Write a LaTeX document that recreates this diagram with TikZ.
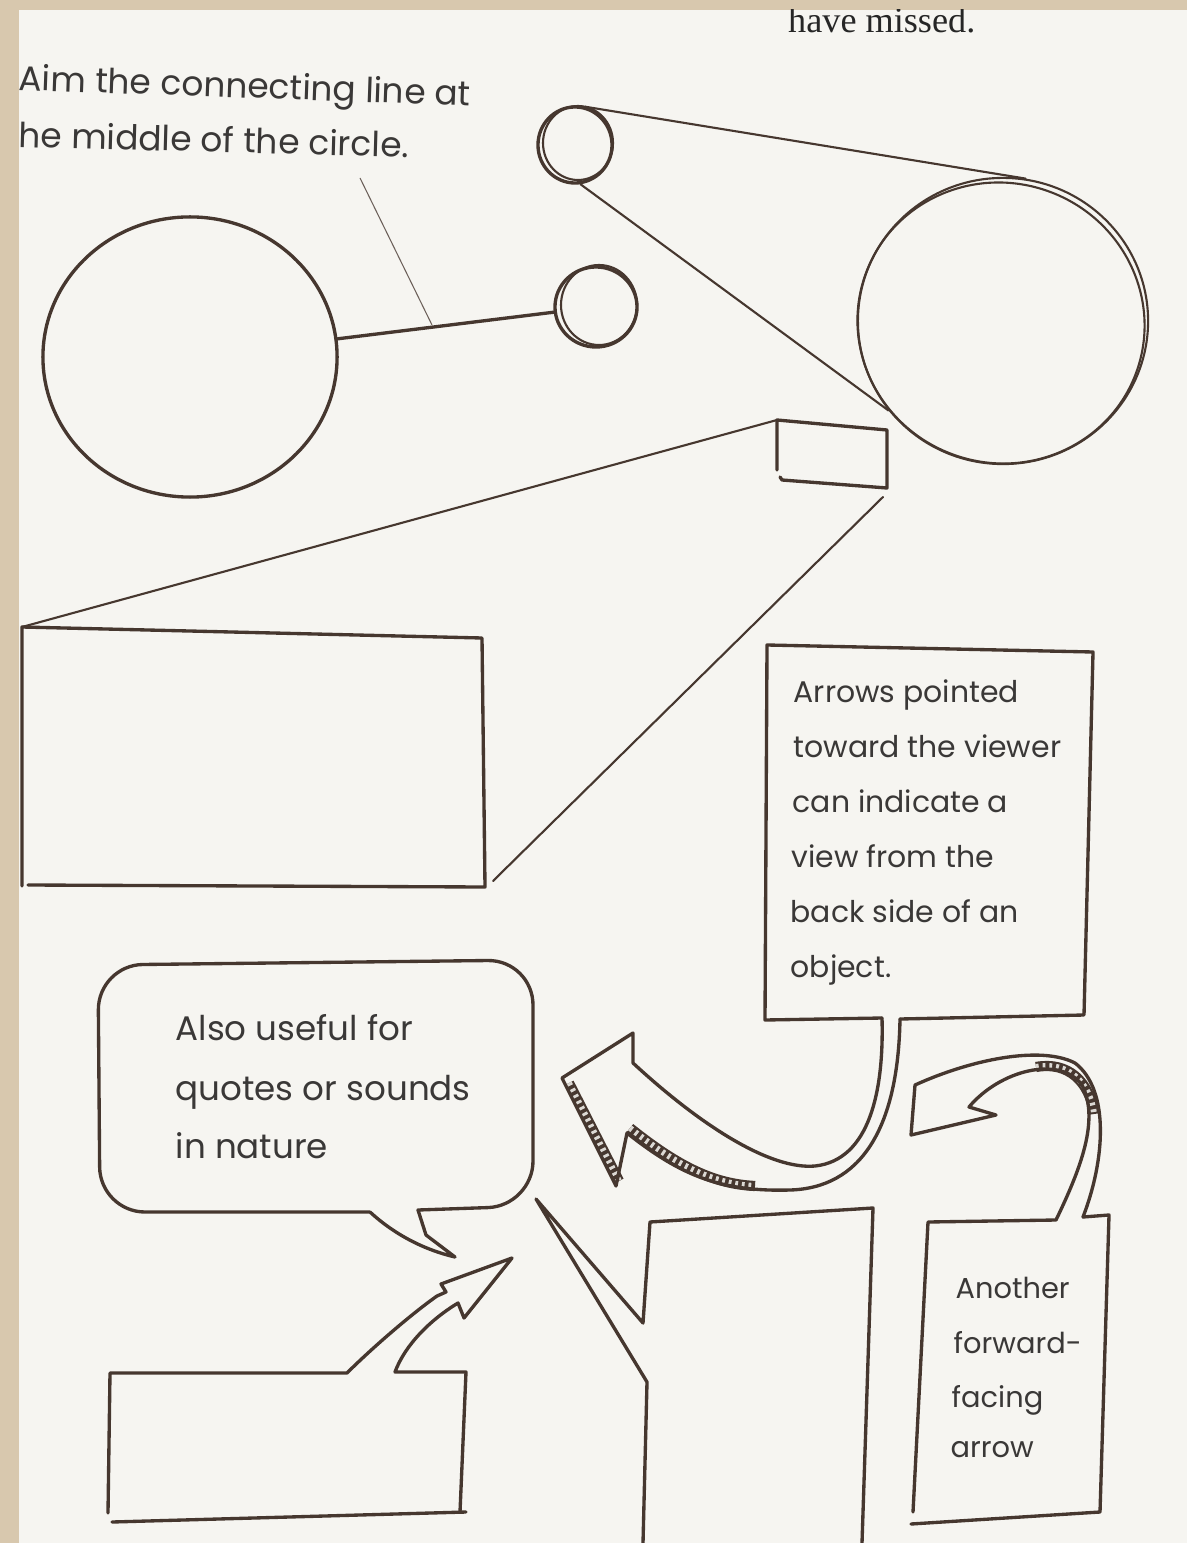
\documentclass[tikz,border=0pt]{standalone}
\usepackage{fontspec}
\setmainfont{Poppins}
\newfontfamily\serifpart{Liberation Serif}
\usetikzlibrary{shapes.geometric}
\definecolor{beige}{HTML}{D8C8AE}
\definecolor{paper}{HTML}{F6F5F1}
\definecolor{ink}{HTML}{46372F}
\definecolor{txtc}{HTML}{3A3837}
\begin{document}
\begin{tikzpicture}[x=0.01cm,y=-0.01cm,
  pen/.style={draw=ink,line width=0.95pt,line join=round,line cap=round},
  fine/.style={draw=ink,line width=0.6pt,line cap=round},
  hair/.style={draw=ink!80,line width=0.3pt},
  hatch/.style={draw=ink,line width=2.9pt,postaction={draw=paper!85!ink,line width=1.7pt,dash pattern=on 0.8pt off 1.1pt}},
  txt/.style={text=txtc,inner sep=0pt,anchor=base west},
  boxtext/.style={txt,font=\fontsize{8.5}{10}\selectfont},
  anotext/.style={txt,font=\fontsize{8.2}{10}\selectfont},
  bubtext/.style={txt,font=\fontsize{9.7}{11}\selectfont},
  toptext/.style={txt,font=\fontsize{9.8}{11}\selectfont}]
% page
\fill[beige] (0,0) rectangle (1187,1543);
\fill[paper] (19,10) rectangle (1187,1543);
\useasboundingbox (0,0) rectangle (1187,1543);

% cut-off line at the top
\begin{scope}
  \clip (19,10) rectangle (1187,200);
  \node[anchor=base east,inner sep=0pt,font=\serifpart\fontsize{10.3}{12}\selectfont,text=black!85] (missed) at (976,33) {have missed.};
\end{scope}

% top caption
\node[toptext,rotate=-2] (capA) at (18,90) {Aim the connecting line at};
\node[toptext,rotate=-1.5] (capB) at (18,147) {he middle of the circle.};

% circles
\node[ellipse,pen,minimum width=2.94cm,minimum height=2.8cm,inner sep=0pt] (bigL) at (190,357) {};
\node[ellipse,pen,minimum width=0.82cm,minimum height=0.8cm,inner sep=0pt] (sR) at (596,307) {};
\draw[fine] (599,305) ellipse [x radius=38, y radius=40];
\draw[pen] (bigL) -- (sR);
\coordinate (ptrA) at (360,178);
\coordinate (ptrB) at (432,325);
\draw[hair] (ptrA) -- (ptrB);

\node[ellipse,pen,minimum width=0.74cm,minimum height=0.76cm,inner sep=0pt] (sTop) at (575,145) {};
\draw[fine] (578,143) ellipse [x radius=35, y radius=37];
\node[ellipse,fine,minimum width=2.9cm,minimum height=2.86cm,inner sep=0pt] (bigR) at (1003,321) {};
\draw[fine,rotate around={-20:(1001,323)}] (1001,323) ellipse [x radius=144, y radius=140];
\draw[fine] (sTop.75) -- (bigR.81);
\draw[fine] (sTop.-82) -- (bigR.218);

% small square and big rectangle
\coordinate (sqTL) at (777,420);
\coordinate (sqBR) at (883,497);
\draw[pen] (777,470) -- (sqTL) -- (887,430) -- (887,488) -- (782,480) -- (780,477);
\coordinate (brTL) at (22,627);
\coordinate (brBR) at (493,881);
\draw[pen] (22,886) -- (brTL) -- (482,638) -- (485,887) -- (28,885);
\draw[fine] (sqTL) -- (brTL);
\draw[fine] (sqBR) -- (brBR);

% text box "Arrows pointed..."
\coordinate (stemL) at (882,1018);
\coordinate (stemR) at (900,1019);
\draw[pen] (stemL) -- (765,1020) -- (767,645) -- (1093,652) -- (1084,1015) -- (stemR);
\node[boxtext] (t1) at (793,702) {Arrows pointed};
\node[boxtext] (t2) at (793,757) {toward the viewer};
\node[boxtext] (t3) at (792,812) {can indicate a};
\node[boxtext] (t4) at (791,867) {view from the};
\node[boxtext] (t5) at (790,922) {back side of an};
\node[boxtext] (t6) at (790,977) {object.};

% left curved arrow
\draw[hatch] (569,1083) -- (619,1181);
\draw[hatch] (630,1128) .. controls (680,1168) and (715,1184) .. (755,1186);
\draw[pen] (stemL) .. controls (884,1090) and (870,1160) .. (815,1166)
  .. controls (770,1170) and (700,1125) .. (633,1063) -- (633,1033) -- (562,1078)
  -- (616,1186) -- (627,1133) .. controls (680,1175) and (720,1192) .. (790,1190)
  .. controls (860,1188) and (898,1130) .. (stemR);

% speech bubble
\draw[pen] (370,1212) [rounded corners=0.45cm] -- (100,1212) -- (98,965) -- (533,960) -- (533,1206) [sharp corners] -- (418,1210) -- (426,1235) -- (455,1257) .. controls (425,1250) and (395,1235) .. (370,1212);
\node[bubtext] (b1) at (175,1040) {Also useful for};
\node[bubtext] (b2) at (175,1100) {quotes or sounds};
\node[bubtext] (b3) at (175,1158) {in nature};

% bottom-left box with thin arrow
\draw[pen] (108,1513) -- (110,1373) -- (347,1373) .. controls (370,1350) and (410,1315) .. (437,1296)
  -- (446,1292) -- (441,1284) -- (512,1258) -- (464,1318) -- (458,1303)
  .. controls (430,1320) and (405,1345) .. (395,1372) -- (466,1372) -- (460,1512);
\draw[pen] (112,1522) -- (466,1512);

% bottom centre box
\draw[pen] (643,1543) -- (647,1382) -- (536,1199) -- (643,1323) -- (650,1222) -- (873,1208) -- (862,1543);

% box "Another forward-facing arrow" with curved arrow
\coordinate (inJ) at (1056,1220);
\coordinate (outJ) at (1083,1217);
\draw[hatch] (1036,1067) .. controls (1068,1061) and (1090,1082) .. (1094,1114);
\draw[pen] (outJ) .. controls (1105,1160) and (1110,1090) .. (1075,1063)
  .. controls (1040,1045) and (970,1060) .. (915,1085) -- (911,1135) -- (996,1115) -- (969,1107)
  .. controls (1000,1070) and (1060,1055) .. (1082,1085) .. controls (1100,1120) and (1080,1170) .. (inJ)
  -- (928,1222) -- (913,1512);
\draw[pen] (outJ) -- (1109,1215) -- (1100,1512) -- (911,1524);
\node[anotext] (a1) at (955,1298) {Another};
\node[anotext] (a2) at (953,1353) {forward-};
\node[anotext] (a3) at (951,1407) {facing};
\node[anotext] (a4) at (950,1457) {arrow};
\end{tikzpicture}
\end{document}
